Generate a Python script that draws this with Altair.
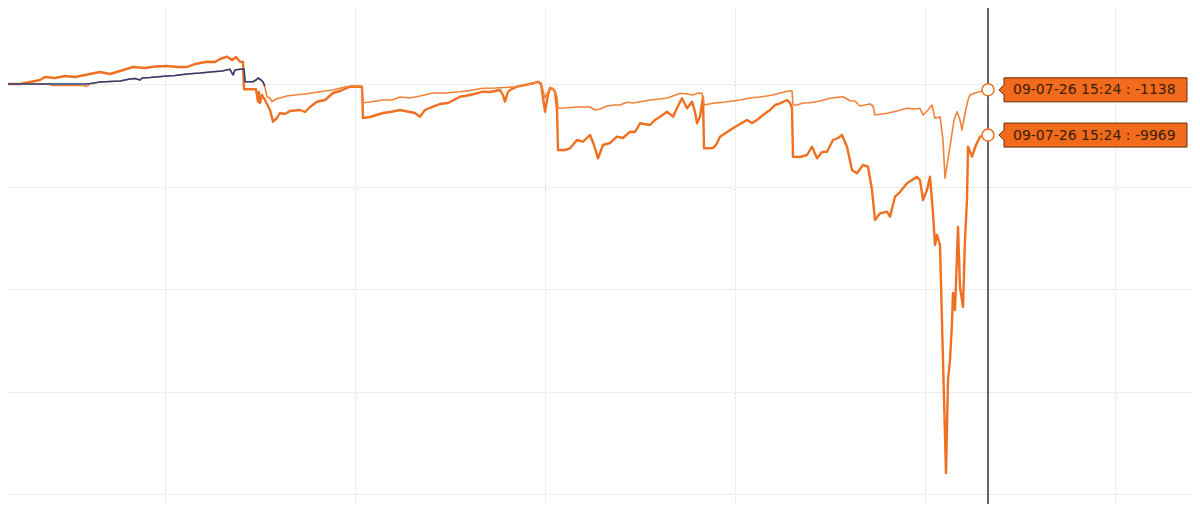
import altair as alt
import pandas as pd

# ---- data (x = bar index, y = P&L) ----
thin_x = [25,75,77,109,111,115,125,135,145,155,160,165,167,175,192,200,212,225,238,247,255,258,260,265,269,270,278,281,283,286,288,290,292,295,297,301,305,312,320,330,340,350,358,370,378,383,387,388,395,408,417,425,435,445,458,470,485,495,508,520,530,542,550,558,563,566,570,573,575,578,580,582,583,590,598,605,615,620,625,632,640,645,652,658,665,675,685,692,698,705,712,718,723,727,729,738,750,765,775,785,798,805,815,817,818,822,828,835,845,855,868,875,880,885,895,898,900,912,922,932,940,945,948,953,957,960,965,968,970,972,975,979,982,985,987,990,993,995,1000,1005,1010,1013]
thin_y = [0,0,-293,-293,-488,0,390,488,585,976,1073,780,1171,1268,1561,1659,1951,2146,2400,2537,2868,1756,2732,2868,2927,449,449,780,1171,780,390,-780,-2478,-2732,-3454,-2927,-2732,-2341,-2146,-1951,-1659,-1366,-1171,-585,-332,-390,-390,-3649,-3512,-3122,-3122,-2537,-2732,-2341,-1756,-1756,-1502,-1268,-839,-780,-683,-527,-195,137,449,195,-2732,-1561,-780,-976,-1502,-2537,-4741,-4683,-4546,-4488,-4488,-5073,-4878,-4293,-4098,-4098,-3571,-3707,-3454,-3122,-2927,-2732,-2341,-1815,-1951,-2146,-1756,-1815,-4098,-3766,-3512,-3122,-2732,-2537,-2146,-1756,-1307,-1366,-4098,-4098,-3707,-3649,-3317,-2790,-2478,-3259,-3317,-4293,-3902,-4293,-6049,-5717,-5268,-4741,-4878,-4741,-6049,-5073,-4098,-6693,-6380,-10927,-18400,-15805,-12234,-7024,-5405,-7024,-8976,-5717,-3122,-2146,-1756,-1502,-1171,-1138]

thick_x = [25,45,50,65,70,80,90,100,110,125,135,145,158,170,180,192,203,212,220,232,240,245,252,257,261,265,268,269,281,283,284,285,287,290,295,298,302,305,310,315,325,330,335,342,350,358,365,375,382,387,388,395,408,415,425,435,440,445,450,458,465,473,485,495,508,515,525,528,530,533,535,542,550,558,563,566,570,573,575,578,580,582,583,590,595,602,608,615,619,623,628,635,642,648,655,660,665,675,680,685,692,698,703,707,712,717,720,722,725,728,729,738,741,745,752,758,765,772,777,782,788,795,800,805,812,815,817,818,825,832,837,842,847,852,858,863,867,872,877,882,888,893,897,900,905,912,915,920,925,932,937,942,945,948,952,955,958,960,962,965,968,971,973,975,977,978,980,983,985,988,990,992,993,997,1001,1005,1010,1013]
thick_y = [0,0,195,780,1366,1171,1561,1366,1756,2341,1951,2537,3317,3122,3415,3512,3317,3317,3902,4351,4293,4878,5327,4683,5268,4351,4293,-1034,-1034,-3454,-1561,-3707,-2146,-3122,-5073,-7356,-6634,-5658,-5854,-5268,-5073,-5463,-4488,-3454,-3122,-1756,-1366,-527,-527,-585,-6634,-6439,-5658,-5463,-5073,-5463,-5658,-6380,-5073,-4429,-3902,-3707,-2478,-2146,-1502,-1561,-1171,-2146,-3454,-1561,-1171,-527,-195,137,449,0,-5405,-2146,-780,-976,-1502,-5073,-12878,-12878,-12546,-10927,-11258,-9951,-11902,-14497,-11902,-11512,-10283,-10536,-9307,-9366,-7668,-8000,-7024,-6380,-5405,-6380,-4293,-2790,-4741,-3454,-5463,-7668,-6380,-2478,-12546,-12488,-11902,-10283,-9366,-8644,-7805,-7024,-7610,-7024,-6049,-5073,-4098,-3766,-3122,-3707,-4683,-14185,-14244,-13854,-12234,-14497,-13268,-13210,-10927,-10536,-9951,-12234,-16780,-17424,-15805,-16137,-20683,-26536,-25229,-24917,-25893,-21990,-21073,-19375,-18732,-18088,-18732,-22634,-20683,-18088,-25170,-31414,-29463,-31414,-53853,-75902,-57756,-53853,-46634,-40780,-44097,-27902,-39610,-43512,-30439,-22634,-12234,-14185,-11902,-10283,-10049,-9969]

navy_x = [25,110,115,125,135,145,155,160,165,167,175,192,200,212,225,238,247,255,258,260,265,269,270,278,281,283,286,288,290]
navy_y = [0,0,98,390,488,585,976,1073,780,1171,1268,1561,1659,1951,2146,2400,2537,2868,1756,2732,2868,2927,449,449,780,1171,780,390,-390]

cursor_x = [1013]
end_x = [1013, 1013]
end_y = [-1138, -9969]
end_labels = ["09-07-26 15:24 : -1138", "09-07-26 15:24 : -9969"]

x_grid = [190, 380, 570, 760, 950, 1140]
y_grid = [0, -20000, -40000, -60000, -80000]
x_domain = [33, 1217]
y_domain = [-81950, 14829]

thin_df = pd.DataFrame({"x": thin_x, "y": thin_y})
thick_df = pd.DataFrame({"x": thick_x, "y": thick_y})
navy_df = pd.DataFrame({"x": navy_x, "y": navy_y})
cursor_df = pd.DataFrame({"x": cursor_x})
end_df = pd.DataFrame({"x": end_x, "y": end_y, "label": end_labels})

xs = alt.Scale(domain=x_domain, nice=False, zero=False)
ys = alt.Scale(domain=y_domain, nice=False, zero=False)
xax = alt.Axis(values=x_grid, grid=True, labels=False, ticks=False, domain=False, title=None)
yax = alt.Axis(values=y_grid, grid=True, labels=False, ticks=False, domain=False, title=None)

thick = alt.Chart(thick_df).mark_line(color="#F07022", strokeWidth=2.4, clip=True, strokeJoin="round").encode(
    x=alt.X("x:Q", scale=xs, axis=xax), y=alt.Y("y:Q", scale=ys, axis=yax))
thin = alt.Chart(thin_df).mark_line(color="#F38236", strokeWidth=1.6, clip=True, strokeJoin="round").encode(
    x=alt.X("x:Q", scale=xs), y=alt.Y("y:Q", scale=ys))
navy = alt.Chart(navy_df).mark_line(color="#2E3F7C", strokeWidth=1.6, clip=True, strokeJoin="round").encode(
    x=alt.X("x:Q", scale=xs), y=alt.Y("y:Q", scale=ys))
cursor = alt.Chart(cursor_df).mark_rule(color="#333333", strokeWidth=1.5).encode(
    x=alt.X("x:Q", scale=xs))

callout_path = "M1.1,0 L1.6,-0.5 L1.6,-1.2 L19.9,-1.2 L19.9,1.2 L1.6,1.2 L1.6,0.5 Z"
boxes = alt.Chart(end_df).mark_point(shape=callout_path, size=400, filled=True, fill="#F26B1D",
                                     stroke="#6A2C05", strokeWidth=1, opacity=1).encode(
    x=alt.X("x:Q", scale=xs), y=alt.Y("y:Q", scale=ys))
texts = alt.Chart(end_df).mark_text(align="left", baseline="middle", dx=25, dy=0.5, font="DejaVu Sans",
                                    fontSize=14, color="#3A1E08").encode(
    x=alt.X("x:Q", scale=xs), y=alt.Y("y:Q", scale=ys), text="label:N")
circles = alt.Chart(end_df).mark_point(shape="circle", size=144, filled=True, fill="white",
                                       stroke="#F07022", strokeWidth=1.5, opacity=1).encode(
    x=alt.X("x:Q", scale=xs), y=alt.Y("y:Q", scale=ys))

chart = alt.layer(thick, thin, navy, cursor, boxes, texts, circles).properties(
    width=1184, height=496, autosize=alt.AutoSizeParams(type="none"), padding=0, background="white"
).configure_view(stroke=None).configure_axis(gridColor="#dddddd", gridDash=[2, 2], gridWidth=1)

chart.save("out.html", embed_options={"renderer": "svg", "actions": False})
